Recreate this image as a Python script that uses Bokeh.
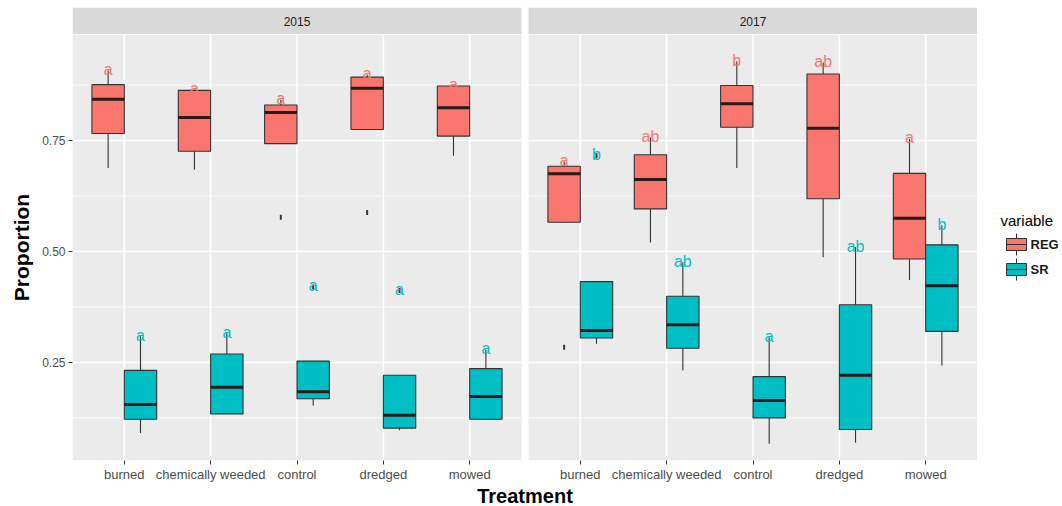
import math
from bokeh.plotting import figure
from bokeh.layouts import row, column
from bokeh.models import ColumnDataSource, FixedTicker, Range1d, PrintfTickFormatter
from bokeh.core.properties import value
from bokeh.embed import file_html
from bokeh.resources import INLINE

# ---------------- data ----------------
years = ["2015", "2017"]
treatments = ["burned", "chemically weeded", "control", "dredged", "mowed"]
variables = ["REG", "SR"]
var_colors = ["#F8766D", "#00BFC4"]

# five-number summaries (lower whisker, Q1, median, Q3, upper whisker)
reg15_low = [0.688, 0.684, 0.743, 0.775, 0.716]
reg15_q1 = [0.766, 0.726, 0.743, 0.775, 0.760]
reg15_med = [0.843, 0.802, 0.813, 0.868, 0.824]
reg15_q3 = [0.876, 0.863, 0.830, 0.893, 0.873]
reg15_up = [0.908, 0.865, 0.842, 0.899, 0.873]
reg15_letters = ["a", "a", "a", "a", "a"]

sr15_low = [0.091, 0.134, 0.153, 0.097, 0.122]
sr15_q1 = [0.122, 0.134, 0.168, 0.102, 0.122]
sr15_med = [0.155, 0.194, 0.184, 0.131, 0.173]
sr15_q3 = [0.232, 0.269, 0.253, 0.221, 0.236]
sr15_up = [0.309, 0.316, 0.253, 0.221, 0.279]
sr15_letters = ["a", "a", "a", "a", "a"]

reg17_low = [0.566, 0.520, 0.688, 0.487, 0.436]
reg17_q1 = [0.566, 0.596, 0.780, 0.619, 0.483]
reg17_med = [0.675, 0.662, 0.833, 0.778, 0.575]
reg17_q3 = [0.692, 0.718, 0.874, 0.900, 0.676]
reg17_up = [0.703, 0.757, 0.929, 0.926, 0.754]
reg17_letters = ["a", "ab", "b", "ab", "a"]

sr17_low = [0.292, 0.232, 0.067, 0.069, 0.243]
sr17_q1 = [0.305, 0.282, 0.125, 0.099, 0.320]
sr17_med = [0.322, 0.335, 0.164, 0.221, 0.423]
sr17_q3 = [0.432, 0.399, 0.218, 0.380, 0.515]
sr17_up = [0.432, 0.476, 0.307, 0.510, 0.559]
sr17_letters = ["b", "ab", "a", "ab", "b"]

# outliers
out_year = ["2015", "2015", "2015", "2015", "2017", "2017"]
out_var = ["REG", "REG", "SR", "SR", "REG", "SR"]
out_treat = ["control", "dredged", "control", "dredged", "burned", "burned"]
out_val = [0.577, 0.588, 0.420, 0.412, 0.284, 0.716]

y_ticks = [0.25, 0.50, 0.75]
y_minor = [0.125, 0.375, 0.625, 0.875]

groups = {
    ("2015", "REG"): (reg15_low, reg15_q1, reg15_med, reg15_q3, reg15_up, reg15_letters),
    ("2015", "SR"): (sr15_low, sr15_q1, sr15_med, sr15_q3, sr15_up, sr15_letters),
    ("2017", "REG"): (reg17_low, reg17_q1, reg17_med, reg17_q3, reg17_up, reg17_letters),
    ("2017", "SR"): (sr17_low, sr17_q1, sr17_med, sr17_q3, sr17_up, sr17_letters),
}

# ---------------- layout geometry ----------------
LEFT = 72
MAIN_W = 977
TOTAL_W = 1061
TOTAL_H = 505
STRIP_H = 34
FRAME_H = 426
AXIS_H = 23
TITLE_H = TOTAL_H - STRIP_H - FRAME_H - AXIS_H
FRAME_W = MAIN_W - LEFT
Y_BOT, Y_TOP = 0.029, 0.989
N = len(treatments)
PANEL_W = N + 0.2
GAP = 7.0 * (2 * PANEL_W) / (FRAME_W - 7.0)
X0 = 0.4
DODGE = 0.1875
BOXW = 0.375

def panel_offset(j):
    return j * (PANEL_W + GAP)

def cat_x(j, i):
    return panel_offset(j) + i + 1

FONT = value("Liberation Sans")

pl = [panel_offset(j) + X0 for j in range(len(years))]
pr = [panel_offset(j) + X0 + PANEL_W for j in range(len(years))]
xr = Range1d(pl[0], pr[-1])

def bare(fig):
    fig.outline_line_color = None
    fig.xgrid.visible = False
    fig.ygrid.visible = False
    fig.background_fill_color = "white"
    fig.border_fill_color = "white"

# ---------- strip figure ----------
st = figure(width=MAIN_W, height=STRIP_H, x_range=xr, y_range=Range1d(0, 1),
            output_backend="svg", toolbar_location=None,
            min_border_left=LEFT, min_border_right=0, min_border_top=7, min_border_bottom=0,
            x_axis_location=None, y_axis_location=None)
bare(st)
st.quad(left=pl, right=pr, bottom=0, top=1, fill_color="#D9D9D9", line_color=None)
st.text(x=[(a + b) / 2 for a, b in zip(pl, pr)], y=0.5, text=years,
        text_font=FONT, text_font_size="12px", text_color="#1A1A1A",
        text_align="center", text_baseline="middle")

# ---------- main figure ----------
p = figure(frame_width=FRAME_W, frame_height=FRAME_H,
           x_range=xr, y_range=Range1d(Y_BOT, Y_TOP),
           output_backend="svg", toolbar_location=None,
           min_border_left=LEFT, min_border_right=0,
           min_border_top=0, min_border_bottom=AXIS_H)
bare(p)

p.quad(left=pl, right=pr, bottom=Y_BOT, top=Y_TOP, fill_color="#EBEBEB", line_color=None)

mx0, mx1, my = [], [], []
for j in range(len(years)):
    for v in y_minor:
        mx0.append(pl[j]); mx1.append(pr[j]); my.append(v)
p.segment(x0=mx0, y0=my, x1=mx1, y1=my, line_color="white", line_width=0.8)

gx0, gx1, gy = [], [], []
for j in range(len(years)):
    for v in y_ticks:
        gx0.append(pl[j]); gx1.append(pr[j]); gy.append(v)
p.segment(x0=gx0, y0=gy, x1=gx1, y1=gy, line_color="white", line_width=1.6)
vx = [cat_x(j, i) for j in range(len(years)) for i in range(N)]
p.segment(x0=vx, y0=Y_BOT, x1=vx, y1=Y_TOP, line_color="white", line_width=1.6)

# boxes
rows = dict(x=[], low=[], q1=[], med=[], q3=[], up=[], color=[], letter=[], ltop=[], lcolor=[])
for j, yr in enumerate(years):
    for k, var in enumerate(variables):
        low, q1, med, q3, up, letters = groups[(yr, var)]
        for i, t in enumerate(treatments):
            x = cat_x(j, i) + (-DODGE if var == "REG" else DODGE)
            outs = [v for (oy, ov, ot, v) in zip(out_year, out_var, out_treat, out_val)
                    if oy == yr and ov == var and ot == t]
            rows["x"].append(x)
            rows["low"].append(low[i]); rows["q1"].append(q1[i]); rows["med"].append(med[i])
            rows["q3"].append(q3[i]); rows["up"].append(up[i])
            rows["color"].append(var_colors[k])
            rows["letter"].append(letters[i])
            rows["ltop"].append(max([up[i]] + outs))
            rows["lcolor"].append(var_colors[k])
src = ColumnDataSource(rows)

p.segment(x0="x", y0="low", x1="x", y1="up", source=src, line_color="#333333", line_width=1.1)
p.vbar(x="x", width=BOXW, bottom="q1", top="q3", source=src, fill_color="color",
       line_color="#333333", line_width=1.1)
p.rect(x="x", y="med", width=BOXW, height=3, height_units="screen", source=src,
       fill_color="#2A1A1A", line_color=None)

# outliers
ox, oy = [], []
for yr, var, t, v in zip(out_year, out_var, out_treat, out_val):
    j = years.index(yr); i = treatments.index(t)
    ox.append(cat_x(j, i) + (-DODGE if var == "REG" else DODGE)); oy.append(v)
p.scatter(x=ox, y=oy, marker="dash", angle=math.pi / 2, size=5, line_width=2,
          line_color="#333333")

# significance letters
p.text(x="x", y="ltop", text="letter", source=src, text_color="lcolor",
       text_font=FONT, text_font_size="16px", text_align="center",
       text_baseline="alphabetic", y_offset=-1)

# axes
p.xaxis.ticker = FixedTicker(ticks=vx)
p.xaxis.major_label_overrides = {x: treatments[n % N] for n, x in enumerate(vx)}
p.yaxis.ticker = FixedTicker(ticks=y_ticks)
p.yaxis.formatter = PrintfTickFormatter(format="%.2f")
for ax in (p.xaxis[0], p.yaxis[0]):
    ax.axis_line_color = None
    ax.major_tick_line_color = "#333333"
    ax.major_tick_out = 4
    ax.major_tick_in = 0
    ax.minor_tick_line_color = None
    ax.major_label_text_font = "Liberation Sans"
    ax.major_label_text_color = "#4D4D4D"
    ax.axis_label_text_font = "Liberation Sans"
    ax.axis_label_text_font_style = "bold"
    ax.axis_label_text_font_size = "21px"
    ax.axis_label_text_color = "black"
p.xaxis.major_label_text_font_size = "13px"
p.yaxis.major_label_text_font_size = "12px"
p.xaxis.major_label_standoff = 2
p.yaxis.major_label_standoff = 3
p.yaxis.axis_label = "Proportion"
p.yaxis.axis_label_standoff = 6

# ---------- x-axis title figure ----------
tt = figure(width=MAIN_W, height=TITLE_H, x_range=xr, y_range=Range1d(0, 1),
            output_backend="svg", toolbar_location=None,
            min_border_left=LEFT, min_border_right=0, min_border_top=0, min_border_bottom=0,
            x_axis_location=None, y_axis_location=None)
bare(tt)
tt.text(x=(pl[0] + pr[-1]) / 2, y=0.5, text=["Treatment"], text_font=FONT,
        text_font_size="20px", text_font_style="bold", text_color="black",
        text_align="center", text_baseline="middle")

# ---------- legend figure (page-pixel coordinates) ----------
lg = figure(width=TOTAL_W - MAIN_W, height=TOTAL_H,
            x_range=Range1d(MAIN_W, TOTAL_W), y_range=Range1d(TOTAL_H, 0),
            output_backend="svg", toolbar_location=None,
            min_border_left=0, min_border_right=0, min_border_top=0, min_border_bottom=0,
            x_axis_location=None, y_axis_location=None)
bare(lg)

key_l, key_r = 1006, 1026
key_c = (key_l + key_r) / 2
key_y = [244, 269]
lg.text(x=1000, y=220, text=["variable"], text_font=FONT, text_font_size="15px",
        text_color="black", text_align="left", text_baseline="middle")
lg.segment(x0=key_c, y0=[y - 11 for y in key_y], x1=key_c, y1=[y + 11 for y in key_y],
           line_color="#333333", line_width=1)
lg.quad(left=key_l, right=key_r, bottom=[y + 6 for y in key_y], top=[y - 6 for y in key_y],
        fill_color=var_colors, line_color="#333333", line_width=1)
lg.segment(x0=key_l, y0=key_y, x1=key_r, y1=key_y, line_color="#333333", line_width=1.2)
lg.text(x=1030, y=key_y, text=variables, text_font=FONT, text_font_size="13px",
        text_font_style="bold", text_color="#1A1A1A", text_align="left", text_baseline="middle")

layout = row(column(st, p, tt), lg)
open("out.html", "w").write(file_html(layout, INLINE))
